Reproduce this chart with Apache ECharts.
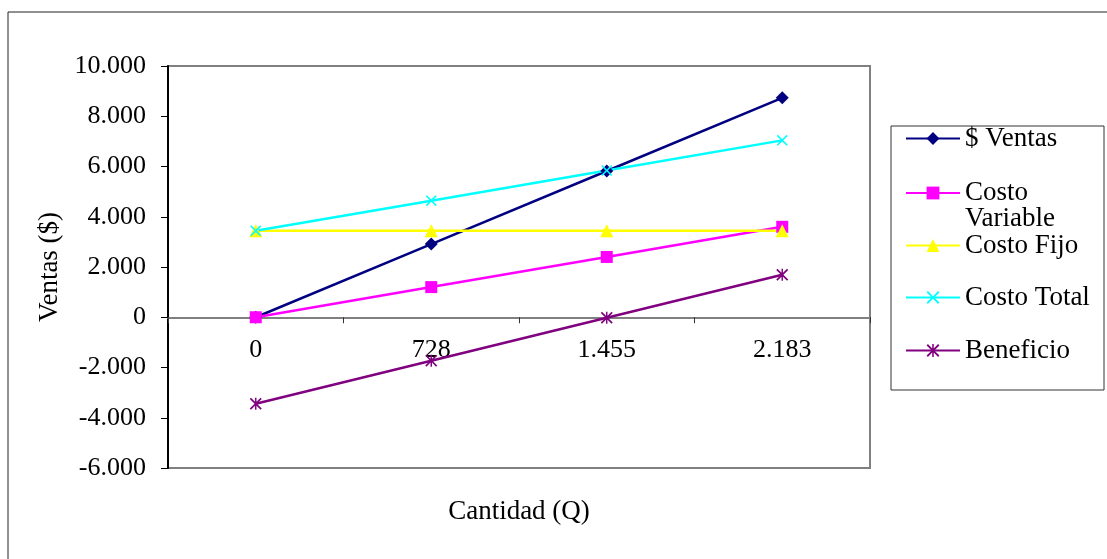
<!DOCTYPE html>
<html>
<head>
<meta charset="utf-8">
<script src="https://cdn.jsdelivr.net/npm/echarts@6/dist/echarts.min.js"></script>
<style>
  html, body { margin: 0; padding: 0; background: #fff; }
  #chart { width: 1107px; height: 559px; }
</style>
</head>
<body>
<div id="chart"></div>
<script>
// datos del punto de equilibrio
const cantidades = ['0', '728', '1.455', '2.183'];
const ventas = [0, 2912, 5820, 8732];
const costoVariable = [0, 1200, 2400, 3600];
const costoFijo = [3440, 3440, 3440, 3440];
const costoTotal = [3440, 4640, 5840, 7040];
const beneficio = [-3440, -1728, -20, 1692];

const FONT = '"Liberation Serif", "Times New Roman", serif';

// simbolos tipo Excel
const xPath = 'path://M0,1 L1,0 L5,4 L9,0 L10,1 L6,5 L10,9 L9,10 L5,6 L1,10 L0,9 L4,5 Z';
const starPath = 'path://M0,1 L1,0 L5,4 L9,0 L10,1 L6,5 L10,9 L9,10 L5,6 L1,10 L0,9 L4,5 Z M4.4,0 L5.6,0 L5.6,10 L4.4,10 Z';

function fmt(v) {
  const s = Math.abs(v).toString().replace(/\B(?=(\d{3})+(?!\d))/g, '.');
  return (v < 0 ? '-' : '') + s;
}

const series = [
  { name: '$ Ventas', data: ventas, color: '#000080', symbol: 'diamond', size: 13 },
  { name: 'Costo Variable', data: costoVariable, color: '#FF00FF', symbol: 'rect', size: 12 },
  { name: 'Costo Fijo', data: costoFijo, color: '#FFFF00', symbol: 'triangle', size: 13 },
  { name: 'Costo Total', data: costoTotal, color: '#00FFFF', symbol: xPath, size: 11 },
  { name: 'Beneficio', data: beneficio, color: '#800080', symbol: starPath, size: 12 }
];

const legText = { fontFamily: FONT, fontSize: 27, color: '#000', lineHeight: 26 };
const legendTops = [125, 162, 232, 284, 337];
const legends = series.map(function (s, i) {
  const multi = s.name === 'Costo Variable';
  return {
    data: [s.name],
    left: 905,
    top: legendTops[i],
    padding: 0,
    itemWidth: 54,
    itemHeight: 16,
    itemGap: 0,
    selectedMode: false,
    // linea vacia arriba para que "Costo" quede alineado con el icono
    formatter: multi ? '{e| }\n{a|Costo}\n{a|Variable}' : '{name}',
    textStyle: multi
      ? { fontFamily: FONT, fontSize: 27, color: '#000', rich: { e: { lineHeight: 26, fontSize: 10 }, a: legText } }
      : legText
  };
});

const chart = echarts.init(document.getElementById('chart'));
chart.setOption({
  animation: false,
  backgroundColor: '#fff',
  graphic: [
    {
      type: 'rect',
      shape: { x: 8, y: 12, width: 1200, height: 600 },
      style: { fill: 'none', stroke: '#222', lineWidth: 1 },
      silent: true
    },
    {
      type: 'rect',
      shape: { x: 891, y: 126, width: 213, height: 264 },
      style: { fill: '#fff', stroke: '#333', lineWidth: 1 },
      silent: true,
      z: -1
    }
  ],
  legend: legends,
  grid: {
    left: 168, right: 237, top: 66, bottom: 91,
    outerBoundsMode: 'none',
    containLabel: false,
    show: true, borderColor: '#808080', borderWidth: 2
  },
  xAxis: {
    type: 'category',
    data: cantidades,
    boundaryGap: true,
    name: 'Cantidad (Q)',
    nameLocation: 'middle',
    nameGap: 30,
    nameTextStyle: { fontFamily: FONT, fontSize: 27, color: '#000' },
    axisLine: { onZero: true, lineStyle: { color: '#808080', width: 2 } },
    axisTick: { show: true, inside: false, length: 6, lineStyle: { color: '#333', width: 1 } },
    // las etiquetas van justo debajo de la linea del cero
    axisLabel: { fontFamily: FONT, fontSize: 26, color: '#000', margin: -131 },
    splitLine: { show: false }
  },
  yAxis: {
    type: 'value',
    min: -6000,
    max: 10000,
    interval: 2000,
    name: 'Ventas ($)',
    nameLocation: 'middle',
    nameGap: 95,
    nameTextStyle: { fontFamily: FONT, fontSize: 27, color: '#000' },
    axisLine: { show: true, lineStyle: { color: '#000', width: 2 } },
    axisTick: { show: true, length: 7, lineStyle: { color: '#000', width: 1 } },
    axisLabel: { fontFamily: FONT, fontSize: 26, color: '#000', margin: 22, formatter: fmt },
    splitLine: { show: false }
  },
  series: series.map(function (s) {
    return {
      name: s.name,
      type: 'line',
      data: s.data,
      symbol: s.symbol,
      symbolSize: s.size,
      showAllSymbol: true,
      color: s.color,
      lineStyle: { color: s.color, width: 2.5 },
      itemStyle: { color: s.color }
    };
  })
});
</script>
</body>
</html>
